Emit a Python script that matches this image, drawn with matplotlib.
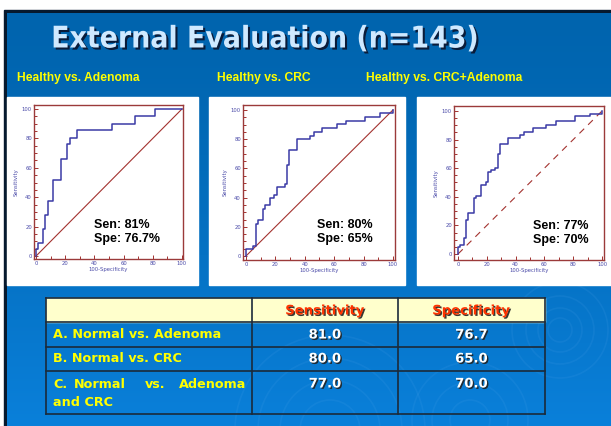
import numpy as np
import matplotlib
matplotlib.use("Agg")
import matplotlib.pyplot as plt
import matplotlib.patches as mpatches
import matplotlib.patheffects as pe

### DATA
titles = ["Healthy vs. Adenoma", "Healthy vs. CRC", "Healthy vs. CRC+Adenoma"]

# ROC step corners: false positive rate where the curve jumps, level after the jump
fpr_a = [0, 0, 1, 5, 6, 8, 11.3, 17, 21, 23, 28, 52, 68, 81.7, 100]
tpr_a = [0, 4.5, 9, 18.7, 28, 37.6, 52, 66, 76, 80.6, 85.4, 90, 95, 100, 100]

fpr_b = [0, 0, 5, 6.8, 8.4, 11.4, 13, 16.4, 19, 21, 26.6, 28, 29.5, 34.8,
         43.6, 46.4, 51.6, 61.8, 68, 81, 91.4, 100]
tpr_b = [0, 5, 7, 22, 25, 32, 35, 39.6, 42, 47, 49.6, 62, 72.5, 80,
         82.4, 85, 87.4, 90.4, 92.4, 95, 97.7, 100]

fpr_c = [0, 0, 1.6, 4.2, 5.8, 7.2, 11, 12.6, 16.3, 19.3, 21, 23, 26, 28, 29.5,
         35, 43, 46, 52, 61, 68, 81.4, 91.8, 100]
tpr_c = [0, 5, 6.3, 11, 24, 29, 39, 40.5, 48.6, 50.5, 57, 58.6, 60, 70, 77,
         81.4, 83.5, 85, 88, 90.2, 93, 96.3, 98, 100]

sen = [81, 80, 77]
spe_txt = ["76.7", "65", "70"]

row_labels = ["A. Normal vs. Adenoma", "B. Normal vs. CRC", "C. Normal vs. Adenoma and CRC"]
col_labels = ["Sensitivity", "Specificity"]
sens_vals = [81.0, 80.0, 77.0]
spec_vals = [76.7, 65.0, 70.0]

W, H = 611, 426
fig = plt.figure(figsize=(W / 100, H / 100), dpi=100)

### BACKGROUND (pixel coordinates)
bg = fig.add_axes([0, 0, 1, 1])
bg.set_xlim(0, W)
bg.set_ylim(H, 0)
bg.axis("off")
bg.add_patch(mpatches.Rectangle((0, 0), W, H, color="white", zorder=0))
bg.add_patch(mpatches.Rectangle((4, 10), W, H, color="#06192e", zorder=0.5))
grad = np.linspace(0, 1, 200).reshape(-1, 1)
top_c = np.array([0x00, 0x64, 0xAE]) / 255
bot_c = np.array([0x0A, 0x80, 0xDA]) / 255
img = top_c + (bot_c - top_c) * grad[..., None] ** 1.3
bg.imshow(img, extent=(7, W, H, 13), aspect="auto", zorder=1)

# faint ripples
for cx, cy, rads in [(560, 330, [12, 22, 34, 48]), (330, 430, [30, 50, 72, 95]),
                     (470, 420, [20, 38, 58])]:
    for r in rads:
        bg.add_patch(mpatches.Circle((cx, cy), r, fill=False, ec="#5aa9ee",
                                     lw=1.2, alpha=0.12, zorder=1.2))

# white panels behind the ROC plots
for x0, x1 in [(7, 198), (209, 405), (417, 611)]:
    bg.add_patch(mpatches.Rectangle((x0, 97), x1 - x0, 188, color="white", zorder=2))

shadow = [pe.withSimplePatchShadow(offset=(1.5, -1.5), shadow_rgbFace="#0a1c3a", alpha=1)]
bg.text(265, 39, "External Evaluation (n=143)", ha="center", va="center",
        fontsize=21.5, fontweight="bold", fontstretch="condensed", color="#cfe9ff",
        family="DejaVu Sans", path_effects=shadow, zorder=3)

for x, t in zip([17, 217, 366], titles):
    bg.text(x, 78, t, ha="left", va="center", fontsize=8.7, fontweight="bold",
            color="#ffff00", family="Liberation Sans", zorder=3)

### ROC PANELS
frames = [(34, 183, 105, 259), (243, 395, 105, 260), (454, 604, 106, 260)]
limits = [((-1.4, 100.7), (-2, 102.7)), ((-2, 101.4), (-2.7, 103.4)),
          ((-2.8, 101.4), (-4.2, 103.5))]
text_pos = [(40, 21, 11.5), (48, 21, 11.5), (52, 19.5, 10)]
curves = [(fpr_a, tpr_a), (fpr_b, tpr_b), (fpr_c, tpr_c)]
diag_style = ["-", "-", (0, (6, 5))]

for i in range(3):
    x0, x1, y0, y1 = frames[i]
    ax = fig.add_axes([x0 / W, (H - y1) / H, (x1 - x0) / W, (y1 - y0) / H])
    ax.set_facecolor("white")
    fpr, tpr = curves[i]
    ax.plot([0, 100], [0, 100], color="#a3322f", lw=0.8, ls=diag_style[i])
    ax.plot(fpr, tpr, drawstyle="steps-post", color="#3a3aa6", lw=1.1)
    ax.set_xlim(*limits[i][0])
    ax.set_ylim(*limits[i][1])
    ax.set_xticks(range(0, 101, 20))
    ax.set_yticks(range(0, 101, 20))
    ax.set_xticks(range(0, 101, 10), minor=True)
    ax.set_yticks(range(0, 101, 5), minor=True)
    ax.tick_params(which="both", direction="in", color="#a3322f", labelsize=3.8,
                   labelcolor="#4a4aa8", pad=1.5, width=0.7)
    ax.tick_params(which="major", length=3)
    ax.tick_params(which="minor", length=2)
    for s in ax.spines.values():
        s.set_color("#9b3a3a")
        s.set_linewidth(1.0)
    ax.set_xlabel("100-Specificity", fontsize=3.8, color="#4a4aa8", labelpad=1)
    ax.set_ylabel("Sensitivity", fontsize=3.8, color="#4a4aa8", labelpad=2)
    tx, ty1, ty2 = text_pos[i]
    ax.text(tx, ty1, "Sen: %d%%" % sen[i], fontsize=9, fontweight="bold",
            family="Liberation Sans", va="center")
    ax.text(tx, ty2, "Spe: %s%%" % spe_txt[i], fontsize=9, fontweight="bold",
            family="Liberation Sans", va="center")

### TABLE
tl, tr = 46, 545
c1, c2 = 252, 398
rows_y = [298, 322, 347, 371, 414]
bg.add_patch(mpatches.Rectangle((tl, rows_y[0]), tr - tl, rows_y[1] - rows_y[0],
                                color="#ffffcc", zorder=3))
for y in rows_y:
    bg.plot([tl, tr], [y, y], color="#1b2a3a", lw=1.2, zorder=4)
for x in [tl, c1, c2, tr]:
    bg.plot([x, x], [rows_y[0], rows_y[-1]], color="#1b2a3a", lw=1.2, zorder=4)

tshadow = [pe.withSimplePatchShadow(offset=(1, -1), shadow_rgbFace="#222222", alpha=0.9)]
for xc, t in zip([(c1 + c2) / 2, (c2 + tr) / 2], col_labels):
    bg.text(xc, 311, t, ha="center", va="center", fontsize=9.5, fontweight="bold",
            color="#ff3300", path_effects=tshadow, zorder=5)

label_y = [335, 359, 385]
for k in range(3):
    if k < 2:
        bg.text(53, label_y[k], row_labels[k], ha="left", va="center", fontsize=9.2,
                fontweight="bold", color="#ffff00", zorder=5)
    else:
        # justified first line, second line left
        words = row_labels[k].split(" ")
        for w, x in zip(words[:4], [53, 74, 145, 246]):
            bg.text(x, label_y[k], w, ha="right" if w == "Adenoma" else "left",
                    va="center", fontsize=9.2, fontweight="bold", color="#ffff00", zorder=5)
        bg.text(53, 402, " ".join(words[4:]), ha="left", va="center", fontsize=9.2,
                fontweight="bold", color="#ffff00", zorder=5)
    bg.text((c1 + c2) / 2, label_y[k] if k < 2 else 384, "%.1f" % sens_vals[k],
            ha="center", va="center", fontsize=9.5, fontweight="bold", color="white",
            path_effects=tshadow, zorder=5)
    bg.text((c2 + tr) / 2, label_y[k] if k < 2 else 384, "%.1f" % spec_vals[k],
            ha="center", va="center", fontsize=9.5, fontweight="bold", color="white",
            path_effects=tshadow, zorder=5)

fig.savefig("out.png", dpi=100)
